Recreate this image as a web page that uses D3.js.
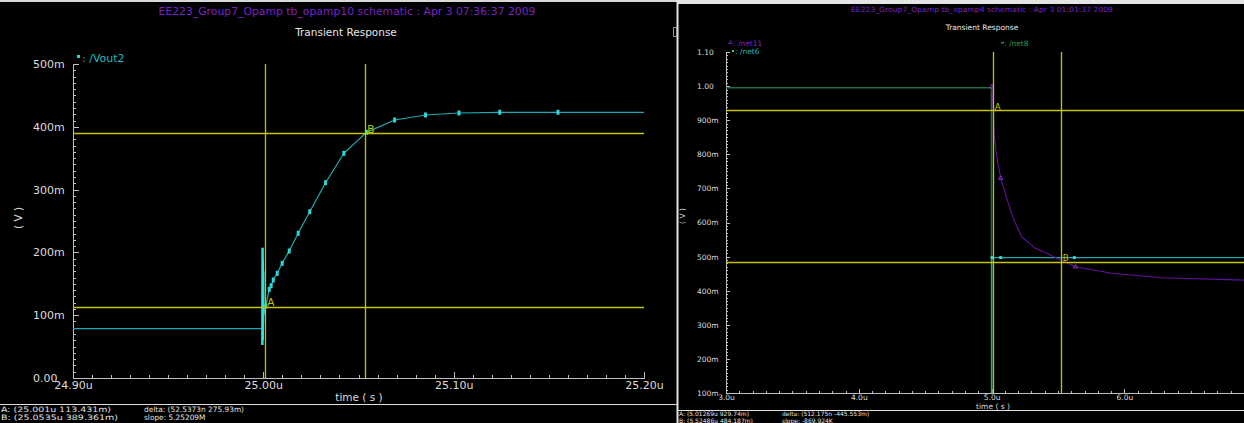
<html>
<head>
<script src="https://cdnjs.cloudflare.com/ajax/libs/d3/7.8.5/d3.min.js"></script>
<style>
    body { margin: 0; background: #000; }
    svg { display: block; background: #000; }
    text { font-family: "DejaVu Sans", sans-serif; }
    .axis path, .axis line { stroke: #bdbdbd; shape-rendering: crispEdges; }
    .axis text { fill: #dcdcdc; font-family: "DejaVu Sans", sans-serif; }
    line.cursor { stroke: #c4c400; stroke-width: 1.3px; }
</style>
</head>
<body>
<svg width="1244" height="423"></svg>
<script>
// ---- left window: tb_opamp10, /Vout2 ----
var vout2T = [24.900, 24.9995, 24.9995, 24.9996, 24.9997, 24.9997, 24.9998, 24.9999, 25.0000, 25.0013,
              25.0031, 25.0041, 25.0052, 25.0073, 25.0099, 25.0136, 25.0183, 25.0244, 25.0327, 25.0423,
              25.0542, 25.0690, 25.0852, 25.1028, 25.1242, 25.1548, 25.2000];
var vout2V = [0.0785, 0.0785, 0.0525, 0.2075, 0.060, 0.190, 0.085, 0.170, 0.100, 0.1147,
              0.1412, 0.1470, 0.1560, 0.1667, 0.1826, 0.2022, 0.2304, 0.2648, 0.3110, 0.3578,
              0.3912, 0.4108, 0.4188, 0.4220, 0.4231, 0.4231, 0.4231];
var leftXTicks = [24.90, 25.00, 25.10, 25.20];
var leftXLabels = ["24.90u", "25.00u", "25.10u", "25.20u"];
var leftYTicks = [0, 0.1, 0.2, 0.3, 0.4, 0.5];
var leftYLabels = ["0.00", "100m", "200m", "300m", "400m", "500m"];
var leftCursorT = [25.001, 25.0535];
var leftCursorV = [0.113431, 0.389361];
var leftStatus = ["A: (25.001u 113.431m)", "B: (25.0535u 389.361m)"];
var leftDelta = ["delta: (52.5373n 275.93m)", "slope: 5.25209M"];

// ---- right window: tb_opamp4, /net11 /net6 /net8 ----
var net8T = [3.0, 4.9995, 4.9995];
var net8V = [0.995, 0.995, 0.0];
var net6T = [3.0, 5.0000, 5.0000, 5.0030, 5.0685, 5.6230, 7.0];
var net6V = [0.0, 0.0, 0.497, 0.497, 0.497, 0.497, 0.497];
var net6Marks = [5.0030, 5.0685, 5.6230];
var net11T = [5.0008, 5.0128, 5.0203, 5.0369, 5.0685, 5.1258, 5.1680, 5.2267, 5.3270, 5.4210,
              5.5354, 5.6320, 5.9030, 6.2830, 6.8990];
var net11V = [0.998, 0.929, 0.852, 0.798, 0.730, 0.656, 0.607, 0.558, 0.525, 0.508,
              0.487, 0.470, 0.451, 0.438, 0.431];
var net11Marks = [5.0008, 5.0685, 5.6320];
var rightXTicks = [3, 4, 5, 6];
var rightXLabels = ["3.0u", "4.0u", "5.0u", "6.0u"];
var rightYTicks = [0.1, 0.2, 0.3, 0.4, 0.5, 0.6, 0.7, 0.8, 0.9, 1.0, 1.1];
var rightYLabels = ["100m", "200m", "300m", "400m", "500m", "600m", "700m", "800m", "900m", "1.00", "1.10"];
var rightCursorT = [5.01269, 5.52486];
var rightCursorV = [0.92974, 0.484187];
var rightStatus = ["A: (5.01269u 929.74m)", "B: (5.52486u 484.187m)"];
var rightDelta = ["delta: (512.175n -445.553m)", "slope: -869.924K"];

var cursorNames = ["A", "B"];
var yellow = "#c4c400";

var svg = d3.select("svg");

// frame bits
svg.append("rect").attr("x", 0).attr("y", 0).attr("width", 677).attr("height", 2).attr("fill", "#d8d8d8");
svg.append("rect").attr("x", 677).attr("y", 0).attr("width", 567).attr("height", 4).attr("fill", "#e4e4e4");
svg.append("rect").attr("x", 676.5).attr("y", 0).attr("width", 2).attr("height", 423).attr("fill", "#e4e4e4");
svg.append("rect").attr("x", 673.5).attr("y", 27.5).attr("width", 3).attr("height", 9)
    .attr("fill", "none").attr("stroke", "#999");
svg.append("line").attr("x1", 0).attr("x2", 677).attr("y1", 404.5).attr("y2", 404.5).attr("stroke", "#e0e0e0");
svg.append("line").attr("x1", 678).attr("x2", 1244).attr("y1", 410.5).attr("y2", 410.5).attr("stroke", "#e0e0e0");

function range(a, b, step) {
    return d3.range(Math.round(a / step), Math.round(b / step) + 1).map(function(i) { return +(i * step).toFixed(6); });
}

// ================= LEFT =================
var lx = d3.scaleLinear().domain([24.90, 25.20]).range([73, 644]);
var ly = d3.scaleLinear().domain([0, 0.5]).range([378, 64]);
var L = svg.append("g");

L.append("text").attr("x", 347).attr("y", 15).attr("text-anchor", "middle")
    .attr("font-size", 10.5).attr("fill", "#7a22c8").attr("textLength", 377).attr("lengthAdjust", "spacingAndGlyphs")
    .text("EE223_Group7_Opamp tb_opamp10 schematic : Apr  3 07:36:37 2009");
L.append("text").attr("x", 346).attr("y", 36).attr("text-anchor", "middle")
    .attr("font-size", 10.5).attr("fill", "#e6e6e6").text("Transient Response");
L.append("rect").attr("x", 77).attr("y", 55).attr("width", 3).attr("height", 3).attr("fill", "#30d0d0");
L.append("text").attr("x", 82).attr("y", 62).attr("font-size", 11).attr("fill", "#20b8c0").text(": /Vout2");

// axes
L.append("g").attr("class", "axis").attr("transform", "translate(0," + ly(0) + ")")
    .call(d3.axisBottom(lx).tickValues(range(24.90, 25.20, 0.01)).tickSize(-3).tickSizeOuter(0).tickFormat(""));
var lxa = L.append("g").attr("class", "axis").attr("transform", "translate(0," + ly(0) + ")")
    .call(d3.axisBottom(lx).tickValues(leftXTicks).tickSize(-6).tickSizeOuter(0)
        .tickPadding(3).tickFormat(function(d, i) { return leftXLabels[i]; }));
lxa.selectAll("text").attr("font-size", 11).attr("dy", "0.71em");
L.append("g").attr("class", "axis").attr("transform", "translate(" + lx(24.90) + ",0)")
    .call(d3.axisLeft(ly).tickValues(range(0, 0.5, 0.01)).tickSize(-3).tickSizeOuter(0).tickFormat(""));
var lya = L.append("g").attr("class", "axis").attr("transform", "translate(" + lx(24.90) + ",0)")
    .call(d3.axisLeft(ly).tickValues(leftYTicks).tickSize(-6).tickSizeOuter(0)
        .tickFormat(function(d, i) { return leftYLabels[i]; }));
lya.selectAll("text").attr("text-anchor", "start").attr("x", -40).attr("font-size", 11);
lxa.select(".domain").remove();

L.append("text").attr("transform", "translate(22,218) rotate(-90)").attr("text-anchor", "middle")
    .attr("font-size", 10.5).attr("fill", "#dcdcdc").text("( V )");
L.append("text").attr("x", 359).attr("y", 401).attr("text-anchor", "middle")
    .attr("font-size", 10.5).attr("fill", "#dcdcdc").text("time ( s )");

// trace
var lineL = d3.line().x(function(d) { return lx(d[0]); }).y(function(d) { return ly(d[1]); });
var vout2 = d3.zip(vout2T, vout2V);
L.append("path").attr("d", lineL(vout2)).attr("fill", "none").attr("stroke", "#1eaab2").attr("stroke-width", 1.2);
L.append("path").attr("d", lineL(vout2.slice(1, 9))).attr("fill", "none").attr("stroke", "#2ee0e0").attr("stroke-width", 2.5);
L.selectAll("rect.mk").data(vout2.slice(9, 26)).enter().append("rect").attr("class", "mk")
    .attr("x", function(d) { return lx(d[0]) - 1.5; }).attr("y", function(d) { return ly(d[1]) - 2.5; })
    .attr("width", 3).attr("height", 5).attr("fill", "#2ed6d6");

// cursors
L.selectAll("line.cv").data(leftCursorT).enter().append("line").attr("class", "cv cursor")
    .attr("x1", function(d) { return Math.round(lx(d)) + 0.5; }).attr("x2", function(d) { return Math.round(lx(d)) + 0.5; })
    .attr("y1", ly(0.5)).attr("y2", ly(0));
L.selectAll("line.ch").data(leftCursorV).enter().append("line").attr("class", "ch cursor")
    .attr("x1", lx(24.90)).attr("x2", lx(25.20))
    .attr("y1", function(d) { return Math.round(ly(d)) + 0.5; }).attr("y2", function(d) { return Math.round(ly(d)) + 0.5; });
L.selectAll("text.cn").data(cursorNames).enter().append("text").attr("class", "cn")
    .attr("x", function(d, i) { return lx(leftCursorT[i]) + 2; })
    .attr("y", function(d, i) { return ly(leftCursorV[i]) - 0.5; })
    .attr("font-size", 10.5).attr("fill", yellow).text(function(d) { return d; });

L.selectAll("text.st").data(leftStatus).enter().append("text").attr("class", "st")
    .attr("x", 1).attr("y", function(d, i) { return 411.5 + i * 8; })
    .attr("font-size", 7.4).attr("fill", "#e0e0e0")
    .attr("textLength", function(d, i) { return i ? 117 : 110; }).attr("lengthAdjust", "spacingAndGlyphs")
    .text(function(d) { return d; });
L.selectAll("text.dl").data(leftDelta).enter().append("text").attr("class", "dl")
    .attr("x", 144).attr("y", function(d, i) { return 411.5 + i * 8; })
    .attr("font-size", 7.4).attr("fill", "#e0e0e0").text(function(d) { return d; });

// ================= RIGHT =================
var rx = d3.scaleLinear().domain([3, 7]).range([726, 1257.2]);
var ry = d3.scaleLinear().domain([0.1, 1.1]).range([393, 52]);
var R = svg.append("g");
R.append("clipPath").attr("id", "rclip").append("rect")
    .attr("x", rx(3)).attr("y", ry(1.1)).attr("width", 1244 - rx(3)).attr("height", ry(0.1) - ry(1.1));

R.append("text").attr("x", 982).attr("y", 12).attr("text-anchor", "middle")
    .attr("font-size", 7.2).attr("fill", "#7a22c8").attr("textLength", 262).attr("lengthAdjust", "spacingAndGlyphs")
    .text("EE223_Group7_Opamp tb_opamp4 schematic : Apr  3 01:01:37 2009");
R.append("text").attr("x", 982).attr("y", 30).attr("text-anchor", "middle")
    .attr("font-size", 7.5).attr("fill", "#e6e6e6").text("Transient Response");
R.append("path").attr("d", d3.symbol().type(d3.symbolTriangle).size(6)()).attr("transform", "translate(730.5,42.5)")
    .attr("fill", "none").attr("stroke", "#7a22c8").attr("stroke-width", 0.8);
R.append("text").attr("x", 733).attr("y", 45.5).attr("font-size", 7.5).attr("fill", "#7a22c8").text(": /net11");
R.append("rect").attr("x", 732).attr("y", 50).attr("width", 2).attr("height", 2).attr("fill", "#30d0d0");
R.append("text").attr("x", 735).attr("y", 54).attr("font-size", 7.5).attr("fill", "#20b0b8").text(": /net6");
R.append("rect").attr("x", 1001).attr("y", 42).attr("width", 3).attr("height", 1.5).attr("fill", "#2a9a4a");
R.append("text").attr("x", 1004).attr("y", 45.5).attr("font-size", 7.5).attr("fill", "#2a9a4a").text(": /net8");

R.append("g").attr("class", "axis").attr("transform", "translate(0," + ry(0.1) + ")")
    .call(d3.axisBottom(rx).tickValues(range(3, 7, 0.1)).tickSize(-2).tickSizeOuter(0).tickFormat(""));
var rxa = R.append("g").attr("class", "axis").attr("transform", "translate(0," + ry(0.1) + ")")
    .call(d3.axisBottom(rx).tickValues(rightXTicks).tickSize(-4).tickSizeOuter(0)
        .tickPadding(2).tickFormat(function(d, i) { return rightXLabels[i]; }));
rxa.selectAll("text").attr("font-size", 7.5).attr("dy", "0.71em");
rxa.select(".domain").remove();
R.append("g").attr("class", "axis").attr("transform", "translate(" + rx(3) + ",0)")
    .call(d3.axisLeft(ry).tickValues(range(0.1, 1.1, 0.01)).tickSize(-2).tickSizeOuter(0).tickFormat(""));
var rya = R.append("g").attr("class", "axis").attr("transform", "translate(" + rx(3) + ",0)")
    .call(d3.axisLeft(ry).tickValues(rightYTicks).tickSize(-4).tickSizeOuter(0)
        .tickFormat(function(d, i) { return rightYLabels[i]; }));
rya.selectAll("text").attr("text-anchor", "start").attr("x", -29).attr("font-size", 7.5);

R.append("text").attr("transform", "translate(685,216) rotate(-90)").attr("text-anchor", "middle")
    .attr("font-size", 7.5).attr("fill", "#dcdcdc").text("( V )");
R.append("text").attr("x", 993).attr("y", 409).attr("text-anchor", "middle")
    .attr("font-size", 7.5).attr("fill", "#dcdcdc").text("time ( s )");

var lineR = d3.line().x(function(d) { return rx(d[0]); }).y(function(d) { return ry(d[1]); });
var plotR = R.append("g").attr("clip-path", "url(#rclip)");
plotR.append("path").attr("d", lineR(d3.zip(net8T, net8V))).attr("fill", "none").attr("stroke", "#1d6e40").attr("stroke-width", 1.6);
plotR.append("path").attr("d", lineR(d3.zip(net6T, net6V))).attr("fill", "none").attr("stroke", "#1aa6ae").attr("stroke-width", 1.3);
plotR.append("path").attr("d", lineR(d3.zip(net11T, net11V))).attr("fill", "none").attr("stroke", "#6410a0").attr("stroke-width", 1.1);
plotR.selectAll("rect.m6").data(net6Marks).enter().append("rect").attr("class", "m6")
    .attr("x", function(d) { return rx(d) - 1.5; }).attr("y", ry(0.497) - 1.5)
    .attr("width", 3).attr("height", 3).attr("fill", "#30d8d8");
plotR.selectAll("path.m11").data(net11Marks).enter().append("path").attr("class", "m11")
    .attr("d", d3.symbol().type(d3.symbolTriangle).size(8)())
    .attr("transform", function(d) { return "translate(" + rx(d) + "," + ry(net11V[net11T.indexOf(d)]) + ")"; })
    .attr("fill", "none").attr("stroke", "#8a3ac8").attr("stroke-width", 0.9);

R.selectAll("line.cv").data(rightCursorT).enter().append("line").attr("class", "cv cursor")
    .attr("x1", function(d) { return Math.round(rx(d)) + 0.5; }).attr("x2", function(d) { return Math.round(rx(d)) + 0.5; })
    .attr("y1", ry(1.1)).attr("y2", ry(0.1));
R.selectAll("line.ch").data(rightCursorV).enter().append("line").attr("class", "ch cursor")
    .attr("x1", rx(3)).attr("x2", 1244)
    .attr("y1", function(d) { return Math.round(ry(d)) + 0.5; }).attr("y2", function(d) { return Math.round(ry(d)) + 0.5; });
R.selectAll("text.cn").data(cursorNames).enter().append("text").attr("class", "cn")
    .attr("x", function(d, i) { return rx(rightCursorT[i]) + 1.5; })
    .attr("y", function(d, i) { return ry(rightCursorV[i]) - 0.5; })
    .attr("font-size", 8.5).attr("fill", yellow).text(function(d) { return d; });

R.selectAll("text.st").data(rightStatus).enter().append("text").attr("class", "st")
    .attr("x", 679).attr("y", function(d, i) { return 416 + i * 6.5; })
    .attr("font-size", 6).attr("fill", "#e0e0e0").text(function(d) { return d; });
R.selectAll("text.dl").data(rightDelta).enter().append("text").attr("class", "dl")
    .attr("x", 782).attr("y", function(d, i) { return 416 + i * 6.5; })
    .attr("font-size", 6).attr("fill", "#e0e0e0").text(function(d) { return d; });
</script>
</body>
</html>
